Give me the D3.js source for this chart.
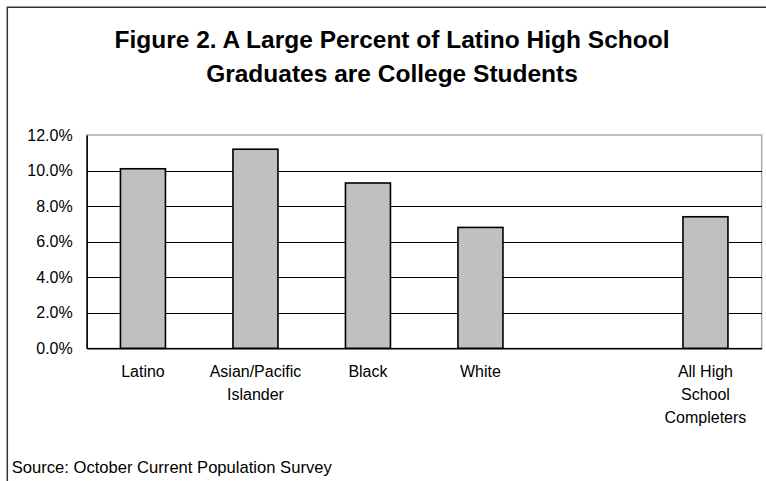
<!DOCTYPE html>
<html>
<head>
<meta charset="utf-8">
<script src="https://cdn.jsdelivr.net/npm/d3@7"></script>
<style>
  html, body { margin: 0; padding: 0; background: #fff; }
  svg { display: block; font-family: "Liberation Sans", Arial, sans-serif; }
</style>
</head>
<body>
<svg id="chart" width="766" height="481"></svg>
<script>
// ---- data ----
const categories = ["Latino", "Asian/Pacific Islander", "Black", "White", "", "All High School Completers"];
const categoryLines = [["Latino"], ["Asian/Pacific", "Islander"], ["Black"], ["White"], [], ["All High", "School", "Completers"]];
const values = [10.1, 11.2, 9.3, 6.8, null, 7.4];
const yTicks = [0, 2, 4, 6, 8, 10, 12];
const titleLines = ["Figure 2. A Large Percent of Latino High School", "Graduates are College Students"];
const sourceText = "Source: October Current Population Survey";

// ---- layout ----
const svg = d3.select("#chart");
const plot = { left: 86.7, right: 761.7, top: 135, bottom: 348.3 };

// outer frame (extends beyond the right and bottom edges)
svg.append("path")
  .attr("d", "M7.3,490 L7.3,7.3 L780,7.3")
  .attr("fill", "none").attr("stroke", "#333").attr("stroke-width", 1.5);

// title
const title = svg.append("text")
  .attr("text-anchor", "middle")
  .attr("font-size", 24.5).attr("font-weight", "bold").attr("fill", "#000");
titleLines.forEach((t, i) => {
  title.append("tspan").attr("x", 392).attr("y", 48 + i * 33.5).text(t);
});

const x = d3.scaleBand()
  .domain(categories)
  .range([plot.left, plot.right])
  .paddingInner(0.6)
  .paddingOuter(0.3);

const y = d3.scaleLinear().domain([0, 12]).range([plot.bottom, plot.top]);

// plot area border (gray top/right)
svg.append("rect")
  .attr("x", plot.left).attr("y", plot.top)
  .attr("width", plot.right - plot.left).attr("height", plot.bottom - plot.top)
  .attr("fill", "#fff").attr("stroke", "#999").attr("stroke-width", 1.2);

// gridlines
const grid = svg.append("g")
  .attr("transform", `translate(${plot.left},0)`)
  .call(d3.axisLeft(y).tickValues(yTicks.filter(d => d > 0 && d < 12)).tickSize(-(plot.right - plot.left)).tickFormat(""));
grid.select(".domain").remove();
grid.selectAll(".tick line").attr("stroke", "#000").attr("stroke-width", 1).attr("shape-rendering", "crispEdges");

// bars
svg.append("g").selectAll("rect")
  .data(categories.map((c, i) => ({ c, v: values[i] })).filter(d => d.v !== null))
  .join("rect")
  .attr("x", d => x(d.c))
  .attr("y", d => y(d.v))
  .attr("width", x.bandwidth())
  .attr("height", d => y(0) - y(d.v))
  .attr("fill", "#c0c0c0")
  .attr("stroke", "#000")
  .attr("stroke-width", 1.6);

// y axis
const yAxis = svg.append("g")
  .attr("transform", `translate(${plot.left},0)`)
  .call(d3.axisLeft(y).tickValues(yTicks).tickSize(0).tickPadding(14).tickFormat(d => d.toFixed(1) + "%"));
yAxis.select(".domain").attr("stroke", "#000").attr("stroke-width", 1.5);
yAxis.selectAll("text").attr("font-size", 16).attr("fill", "#000")
  .attr("font-family", "Liberation Sans, Arial, sans-serif");

// x axis
const xAxis = svg.append("g")
  .attr("transform", `translate(0,${plot.bottom})`)
  .call(d3.axisBottom(x).tickSize(0).tickFormat(""));
xAxis.select(".domain").attr("stroke", "#000").attr("stroke-width", 1.5);
xAxis.selectAll(".tick").each(function (d) {
  const lines = categoryLines[categories.indexOf(d)];
  const t = d3.select(this).select("text")
    .attr("font-size", 16).attr("fill", "#000")
    .attr("font-family", "Liberation Sans, Arial, sans-serif")
    .attr("dy", null).attr("y", null);
  lines.forEach((ln, i) => {
    t.append("tspan").attr("x", 0).attr("y", 29 + i * 23).text(ln);
  });
});

// source
svg.append("text")
  .attr("x", 11.7).attr("y", 473)
  .attr("font-size", 16.6).attr("fill", "#000")
  .text(sourceText);
</script>
</body>
</html>
